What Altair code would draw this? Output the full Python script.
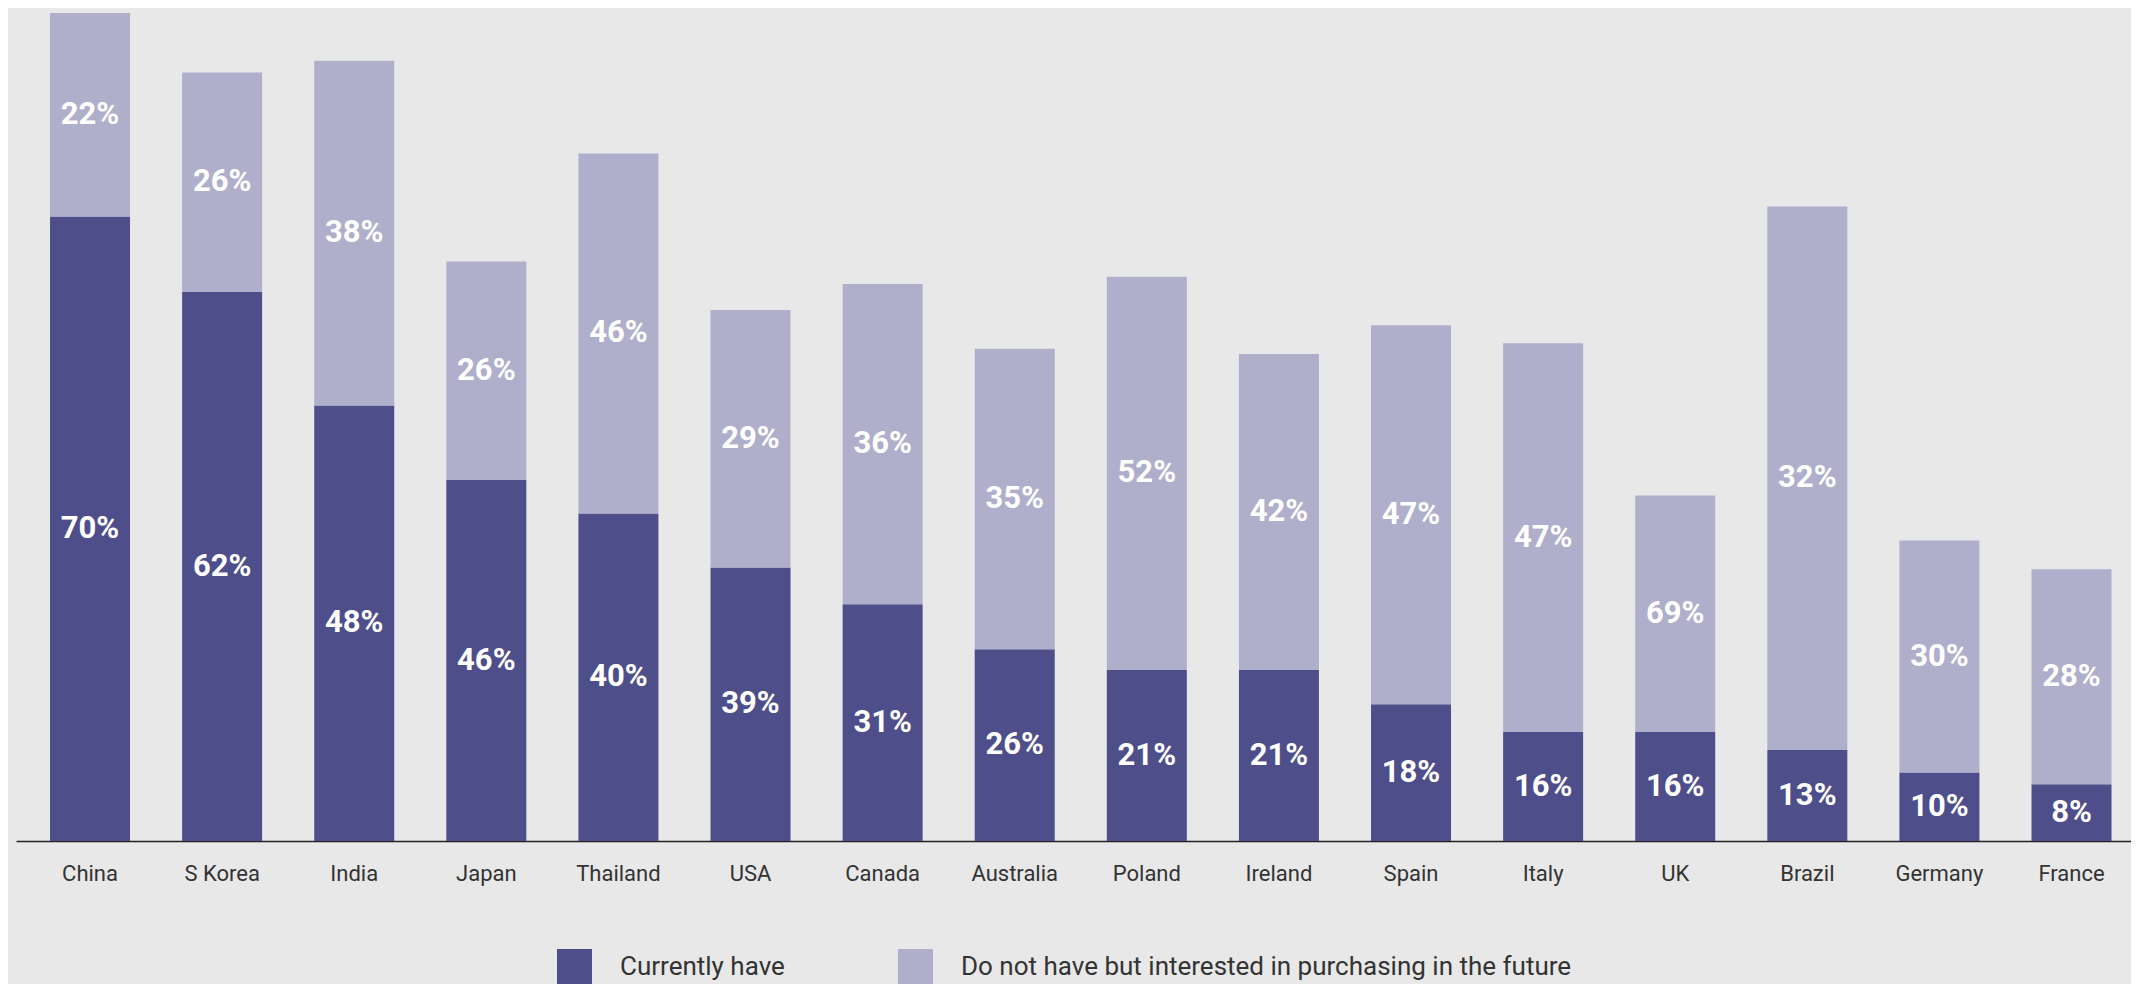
import altair as alt
import pandas as pd

countries = ["China", "S Korea", "India", "Japan", "Thailand", "USA", "Canada", "Australia",
             "Poland", "Ireland", "Spain", "Italy", "UK", "Brazil", "Germany", "France"]
# bar segment heights as drawn
have_height = [69.4, 61.0, 48.4, 40.1, 36.4, 30.4, 26.3, 21.3, 19.0, 19.0, 15.2, 12.1, 12.1, 10.1, 7.6, 6.3]
interest_height = [22.6, 24.4, 38.3, 24.3, 40.0, 28.6, 35.6, 33.4, 43.7, 35.1, 42.1, 43.2, 26.3, 60.4, 25.8, 23.9]
# printed labels
have_label = ["70%", "62%", "48%", "46%", "40%", "39%", "31%", "26%", "21%", "21%", "18%", "16%", "16%", "13%", "10%", "8%"]
interest_label = ["22%", "26%", "38%", "26%", "46%", "29%", "36%", "35%", "52%", "42%", "47%", "47%", "69%", "32%", "30%", "28%"]

series = ["Currently have", "Do not have but interested in purchasing in the future"]
colors = ["#4e4e8b", "#afaecb"]

rows = []
for i, c in enumerate(countries):
    h1, h2 = have_height[i], interest_height[i]
    rows.append({"country": c, "series": series[0], "y0": 0, "y1": h1, "mid": h1 / 2, "label": have_label[i]})
    rows.append({"country": c, "series": series[1], "y0": h1, "y1": h1 + h2, "mid": h1 + h2 / 2, "label": interest_label[i]})
df = pd.DataFrame(rows)

x = alt.X("country:N", sort=countries, title=None,
          scale=alt.Scale(paddingInner=0.3944, paddingOuter=0.2025, align=0.636),
          axis=alt.Axis(labelAngle=0, ticks=False, domain=True, domainColor="#222222",
                        domainWidth=1.5, labelFont="Roboto", labelFontSize=22,
                        labelColor="#333333", labelPadding=22, grid=False))
yscale = alt.Scale(domain=[0, 92.56], nice=False, zero=True)

bars = alt.Chart(df).mark_bar().encode(
    x=x,
    y=alt.Y("y0:Q", scale=yscale, axis=None),
    y2="y1:Q",
    color=alt.Color("series:N", scale=alt.Scale(domain=series, range=colors),
                    legend=alt.Legend(orient="none", legendX=541, legendY=941, direction="horizontal",
                                      title=None, symbolType="square", symbolSize=1225,
                                      symbolStrokeWidth=0, symbolOpacity=1, labelFont="Roboto",
                                      labelFontSize=26, labelColor="#333333", labelOffset=28,
                                      columnPadding=113, labelLimit=1000)),
)

labels = alt.Chart(df).mark_text(color="white", font="Roboto", fontWeight="bold", fontSize=31,
                                 baseline="middle", align="center").encode(
    x=alt.X("country:N", sort=countries),
    y=alt.Y("mid:Q", scale=yscale, axis=None),
    text="label:N",
)

chart = alt.layer(bars, labels).properties(
    width=2115, height=833,
    background="#e8e8e8",
    padding={"left": 8, "top": 0, "right": 0, "bottom": 0},
).configure_view(stroke=None)

chart.save("out.html", embed_options={"renderer": "svg", "actions": False})
